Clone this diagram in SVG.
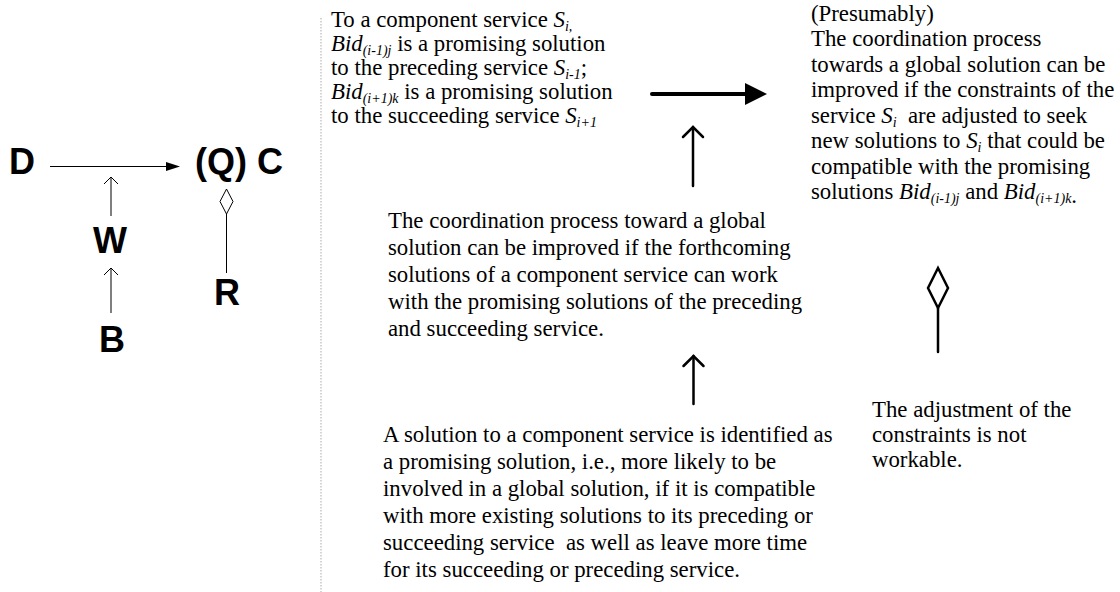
<svg xmlns="http://www.w3.org/2000/svg" width="1120" height="592" viewBox="0 0 1120 592">
<style>
.big{font-family:"Liberation Sans",Arial,sans-serif;font-weight:bold;font-size:36px;fill:#000}
.t{font-family:"Liberation Serif","Times New Roman",serif;font-size:22.8px;fill:#000}
.i{font-style:italic}
.s{font-style:italic;font-size:14px}
.thin{stroke:#000;stroke-width:1;fill:none}
.thick{stroke:#000;stroke-width:2.5;fill:none;stroke-linecap:round}
</style>
<rect width="1120" height="592" fill="#fff"/>
<g id="connectors">
<line x1="50" y1="166.5" x2="168" y2="166.5" class="thin"/>
<path d="M166,162 L180,166.5 L166,171 Z" fill="#000"/>
<line x1="111" y1="216" x2="111" y2="177" class="thin"/>
<path d="M104,184 L111,177 L118,184" class="thin"/>
<line x1="111" y1="313" x2="111" y2="268" class="thin"/>
<path d="M104,275 L111,268 L118,275" class="thin"/>
<line x1="226.5" y1="214" x2="226.5" y2="273" class="thin"/>
<path d="M226.5,189 L233,201.5 L226.5,214 L220,201.5 Z" class="thin"/>
<line x1="321" y1="18" x2="321" y2="592" stroke="#aaa" stroke-width="1" stroke-dasharray="1.5,1.5"/>
<line x1="652" y1="94" x2="748" y2="94" stroke="#000" stroke-width="4" stroke-linecap="round"/>
<path d="M745,83 L767,94 L745,105 Z" fill="#000"/>
<line x1="693" y1="186" x2="693" y2="127" class="thick"/>
<path d="M683,137 L693,127 L703,137" class="thick"/>
<line x1="693.5" y1="404" x2="693.5" y2="356" class="thick"/>
<path d="M683.5,366 L693.5,356 L703.5,366" class="thick"/>
<line x1="938" y1="308" x2="938" y2="352" class="thick"/>
<path d="M938,268 L948,288 L938,308 L928,288 Z" class="thick" stroke-linejoin="miter"/>
</g>
<g id="D"><text class="big" x="9" y="174">D</text></g>
<g id="QC"><text class="big" x="195" y="174">(Q) C</text></g>
<g id="W"><text class="big" x="93" y="253">W</text></g>
<g id="B"><text class="big" x="99" y="352">B</text></g>
<g id="R"><text class="big" x="214" y="305">R</text></g>
<g id="n1">
<text class="t" x="331" y="27">To a component service <tspan class="i">S</tspan><tspan class="s" dy="3.5">i,</tspan></text>
<text class="t" x="331" y="51"><tspan class="i">Bid</tspan><tspan class="s" dy="3.5">(i-1)j</tspan><tspan dy="-3.5"> is a promising solution</tspan></text>
<text class="t" x="331" y="75">to the preceding service <tspan class="i">S</tspan><tspan class="s" dy="3.5">i-1</tspan><tspan dy="-3.5">;</tspan></text>
<text class="t" x="331" y="99"><tspan class="i">Bid</tspan><tspan class="s" dy="3.5">(i+1)k</tspan><tspan dy="-3.5"> is a promising solution</tspan></text>
<text class="t" x="331" y="123">to the succeeding service <tspan class="i">S</tspan><tspan class="s" dy="3.5">i+1</tspan></text>
</g>
<g id="n2">
<text class="t" x="811" y="20.5">(Presumably)</text>
<text class="t" x="811" y="46">The coordination process</text>
<text class="t" x="811" y="71.5">towards a global solution can be</text>
<text class="t" x="811" y="97">improved if the constraints of the</text>
<text class="t" x="811" y="122.5">service <tspan class="i">S</tspan><tspan class="s" dy="4">i</tspan><tspan dy="-4" xml:space="preserve">  are adjusted to seek</tspan></text>
<text class="t" x="811" y="148">new solutions to <tspan class="i">S</tspan><tspan class="s" dy="4">i</tspan><tspan dy="-4"> that could be</tspan></text>
<text class="t" x="811" y="173.5">compatible with the promising</text>
<text class="t" x="811" y="199">solutions <tspan class="i">Bid</tspan><tspan class="s" dy="4">(i-1)j</tspan><tspan dy="-4"> and </tspan><tspan class="i">Bid</tspan><tspan class="s" dy="4">(i+1)k</tspan><tspan>.</tspan></text>
</g>
<g id="n3">
<text class="t" x="388" y="228">The coordination process toward a global</text>
<text class="t" x="388" y="255">solution can be improved if the forthcoming</text>
<text class="t" x="388" y="282">solutions of a component service can work</text>
<text class="t" x="388" y="309">with the promising solutions of the preceding</text>
<text class="t" x="388" y="336">and succeeding service.</text>
</g>
<g id="n4">
<text class="t" x="383" y="442">A solution to a component service is identified as</text>
<text class="t" x="383" y="469">a promising solution, i.e., more likely to be</text>
<text class="t" x="383" y="496">involved in a global solution, if it is compatible</text>
<text class="t" x="383" y="523">with more existing solutions to its preceding or</text>
<text class="t" x="383" y="550" xml:space="preserve">succeeding service  as well as leave more time</text>
<text class="t" x="383" y="577">for its succeeding or preceding service.</text>
</g>
<g id="n5">
<text class="t" x="872" y="417">The adjustment of the</text>
<text class="t" x="872" y="442">constraints is not</text>
<text class="t" x="872" y="467">workable.</text>
</g>
</svg>
